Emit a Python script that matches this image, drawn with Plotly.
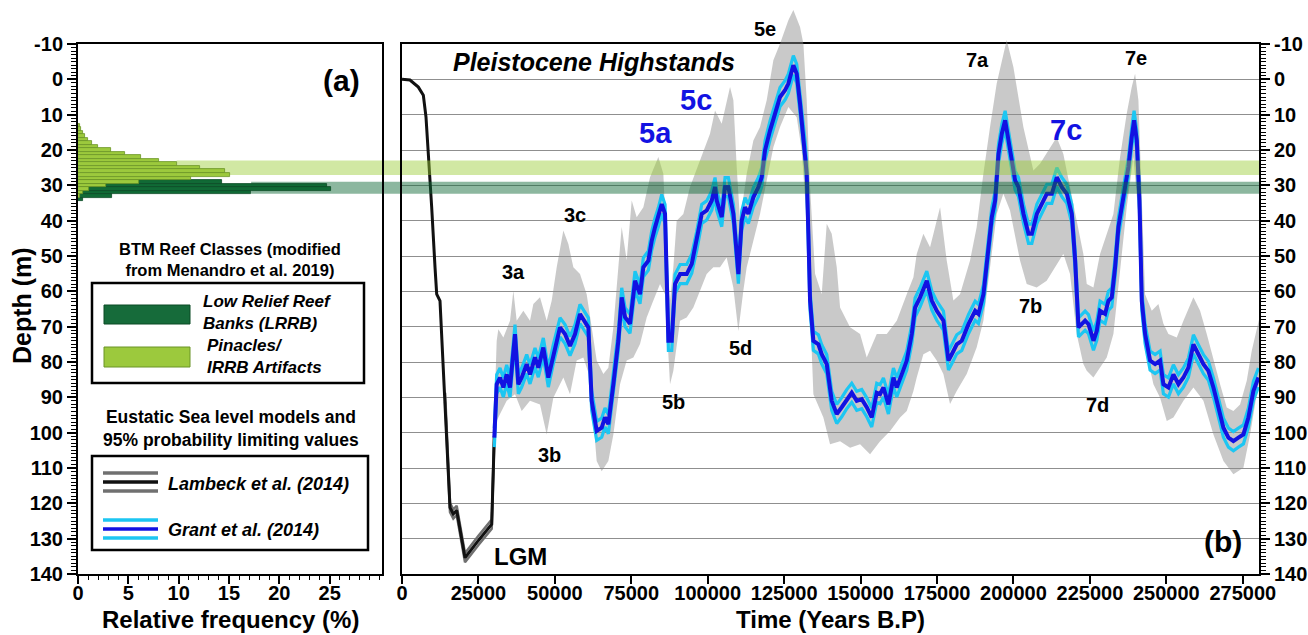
import plotly.graph_objects as go

W, H = 1308, 635
FONT = "Liberation Sans, Arial, sans-serif"

# ---------------- data ----------------
# (a) histogram of reef depths (1 m bins)
light_depth = list(range(13, 34))
light_freq = [0.15, 0.3, 0.45, 0.7, 1.0, 1.4, 2.0, 3.3, 4.7, 6.3, 8.0, 9.8,
              12.1, 14.6, 15.1, 11.2, 6.1, 2.8, 1.1, 0.5, 0.2]
dark_depth = [29, 30, 31, 32, 33, 34]
dark_freq = [14.3, 24.7, 25.1, 17.2, 3.4, 0.5]

band_light = [23.0, 27.1]
band_dark = [29.0, 32.4]

# Lambeck et al. (2014)
lambeck_year = [0, 2600, 5340, 6980, 7850, 8610, 9710, 10800, 11350, 12430, 13520,
                14100, 14620, 15700, 16780, 17890, 18700, 20610, 25000, 29340, 30190]
lambeck_depth = [0, 0.2, 2.2, 4.5, 10.7, 20.1, 36.2, 53.2, 60.8, 62.7, 81.5,
                 90.0, 100.4, 121.2, 123.0, 122.0, 126.0, 135.4, 130.5, 125.9, 101.0]
LAMBECK_CI = 1.3  # m
LAMBECK_CI_FROM = 14000

# Grant et al. (2014)
grant_year = [30200, 30970, 32060, 33150, 34240, 35330, 36960, 38050, 39150, 40790,
              41870, 43500, 44590, 46220, 47860, 49490, 51680, 53320, 54950, 56590,
              58220, 60950, 62040, 63680, 65320, 66400, 67490, 69130, 70760, 71860,
              72950, 74580, 76220, 77850, 78940, 80580, 81670, 82760, 83850, 84950,
              86030, 87130, 88220, 89310, 90950, 93130, 94770, 96400, 98040, 99670,
              101310, 102390, 102940, 104580, 105660, 106750, 108390, 110020, 111110, 112200,
              113290, 114920, 116560, 117650, 118740, 120370, 122010, 123640, 125280, 126370,
              128000, 129100, 130190, 131820, 132370, 132920, 133460, 134550, 136190, 137280,
              138920, 140550, 142190, 143820, 145460, 147100, 148730, 150370, 152000, 153640,
              155280, 156370, 157460, 159090, 160730, 161820, 163450, 165090, 166730, 167820,
              169450, 171640, 173280, 174910, 177090, 178730, 179820, 181450, 183090, 185270,
              187460, 188550, 190180, 191280, 192910, 194000, 195090, 196180, 197270, 198370,
              199450, 200540, 201640, 203270, 204910, 206000, 207640, 209270, 210900, 212540,
              214180, 215810, 217450, 219080, 220170, 221260, 222350, 223430, 224530, 226160,
              227240, 228320, 229960, 231050, 232150, 233230, 234320, 235420, 236500, 237590,
              238680, 239450, 240330, 241200, 241960, 243050, 244680, 246320, 247950, 249040,
              250680, 252310, 253950, 255580, 257210, 258850, 260480, 262120, 263750, 265390,
              267030, 268660, 270300, 271930, 273570, 275200, 276840, 278470, 280110]
grant_depth = [101.4, 86.3, 84.4, 87.2, 83.5, 87.2, 72.1, 86.3, 84.4, 80.6,
               83.5, 78.7, 81.6, 75.9, 84.4, 77.8, 70.2, 72.1, 75.5, 72.1,
               66.4, 70.2, 91.0, 99.5, 98.6, 95.7, 97.6, 86.3, 74.0, 61.7,
               67.3, 69.2, 57.0, 60.8, 53.2, 51.3, 45.7, 41.9, 39.0, 35.3,
               38.1, 74.0, 74.0, 57.9, 55.1, 55.1, 52.2, 45.7, 38.1, 37.1,
               34.3, 30.5, 34.3, 39.0, 30.5, 30.5, 38.1, 55.1, 40.0, 36.2,
               38.1, 33.4, 30.5, 27.7, 20.1, 14.5, 9.7, 5.0, 3.1, 1.2,
               -4.0, -1.6, 6.9, 20.1, 26.7, 43.7, 62.6, 74.0, 75.0, 77.8,
               80.6, 91.0, 94.7, 92.8, 90.5, 88.7, 91.0, 90.5, 92.8, 95.7,
               88.7, 89.1, 87.2, 92.0, 84.4, 87.2, 83.5, 79.6, 72.1, 64.6,
               61.7, 57.0, 62.6, 65.5, 68.3, 79.6, 77.8, 75.0, 74.0, 69.3,
               65.5, 66.4, 60.8, 52.3, 39.0, 34.3, 21.1, 15.4, 11.6, 17.3,
               23.0, 28.6, 30.5, 38.1, 43.7, 43.7, 38.1, 35.3, 32.4, 32.4,
               27.7, 30.5, 32.4, 38.1, 51.3, 70.2, 69.3, 68.3, 69.3, 74.0,
               71.2, 65.5, 66.4, 62.7, 61.7, 53.2, 41.8, 36.2, 30.5, 24.8,
               16.3, 11.6, 17.3, 34.3, 62.7, 72.1, 79.6, 80.6, 79.6, 86.3,
               87.2, 83.5, 86.3, 84.4, 81.6, 75.0, 77.8, 80.6, 82.5, 87.2,
               92.9, 98.6, 101.4, 102.4, 101.4, 100.5, 95.7, 88.2, 84.4]
GRANT_CI = 2.7  # m, half width of the 95% limits

# grey probability envelope
gray_upper_year = [30300, 30970, 31510, 33150, 35330, 36420, 37510, 39690, 41870, 42960,
                   45140, 47320, 48960, 50600, 52770, 54410, 56040, 58220, 60400, 62040,
                   63680, 65860, 67490, 69130, 70760, 71850, 73490, 75130, 76760, 78940,
                   81120, 83840, 85480, 86570, 87660, 88750, 89840, 92020, 94200, 97470,
                   100740, 102380, 104560, 107290, 108380, 109470, 110560, 112740, 114920, 117100,
                   119280, 121460, 123640, 126370, 128000, 130190, 131280, 132370, 133460, 135100,
                   137280, 138920, 140550, 142190, 143280, 146550, 149820, 152000, 155280, 158550,
                   161820, 165090, 167270, 168350, 170530, 172710, 175990, 178160, 180340, 182520,
                   185790, 187970, 190150, 192330, 194510, 197780, 199960, 203230, 206500, 208680,
                   211950, 214130, 216310, 218490, 220670, 222850, 223960, 226140, 228320, 230500,
                   232680, 234860, 237040, 238680, 239770, 240860, 241950, 243040, 245220, 247400,
                   249040, 250680, 253400, 255580, 258850, 261030, 263210, 265390, 267570, 269750,
                   271930, 274110, 276290, 277930, 279560, 280300]
gray_upper_depth = [92.0, 74.0, 70.7, 73.1, 68.3, 59.8, 68.3, 65.5, 68.3, 63.6,
                    61.7, 68.3, 62.7, 53.2, 42.8, 46.6, 53.2, 55.1, 60.8, 70.2,
                    79.6, 83.4, 81.6, 70.2, 53.1, 41.8, 51.2, 34.3, 39.0, 36.2,
                    27.7, 22.0, 26.7, 49.4, 62.6, 53.2, 40.0, 38.1, 30.5, 23.0,
                    15.4, 8.8, 12.6, 2.2, 5.9, 24.8, 40.0, 26.7, 17.3, 13.5,
                    5.9, -5.4, -10.1, -16.7, -19.6, -14.8, -10.1, 5.9, 30.5, 55.0,
                    60.8, 40.9, 43.7, 53.2, 64.6, 70.2, 72.1, 78.7, 72.1, 72.1,
                    68.3, 60.8, 56.0, 49.4, 43.7, 47.5, 36.2, 51.3, 62.6, 60.8,
                    51.3, 41.8, 26.7, 13.5, 1.2, -11.1, -3.5, 13.5, 25.8, 23.9,
                    19.2, 16.4, 21.1, 30.5, 40.0, 49.4, 57.9, 58.9, 49.4, 43.7,
                    38.1, 22.0, 9.7, 2.2, -1.6, 5.9, 34.3, 60.8, 65.5, 63.6,
                    69.2, 72.1, 73.1, 68.3, 61.7, 65.5, 72.1, 79.6, 86.3, 92.9,
                    93.9, 92.0, 85.3, 76.8, 70.2, 68.0]
gray_lower_year = [30300, 30970, 32060, 34240, 36960, 39150, 41870, 45140, 47320, 49500,
                   52770, 54950, 57130, 59310, 61490, 63670, 65310, 67490, 69130, 71310,
                   73490, 75670, 77850, 80030, 82210, 84390, 86030, 87660, 88750, 90930,
                   93110, 95290, 97470, 99650, 101830, 104010, 106190, 108370, 110010, 111640,
                   112740, 114920, 117100, 119280, 121460, 123640, 126370, 129100, 130730, 132370,
                   133460, 134550, 137820, 140000, 143280, 146550, 149820, 153090, 156370, 159640,
                   162910, 165090, 167270, 168350, 170530, 172710, 174890, 177070, 179250, 181430,
                   184700, 187970, 190150, 192330, 194510, 196690, 198870, 202140, 204320, 207590,
                   210860, 214130, 216310, 218490, 220670, 222850, 223960, 226140, 228320, 230500,
                   232680, 234860, 237040, 239220, 240860, 241950, 243590, 245770, 247950, 250130,
                   252310, 255580, 258850, 262120, 265390, 268660, 271930, 275200, 277380, 279560,
                   280300]
gray_lower_depth = [104.0, 96.7, 94.7, 91.0, 89.1, 93.9, 91.0, 92.0, 100.5, 90.1,
                    84.4, 89.1, 79.6, 78.7, 84.4, 108.0, 110.9, 108.0, 100.5, 86.3,
                    79.6, 78.7, 74.9, 67.4, 62.6, 57.9, 60.8, 86.3, 82.5, 68.3,
                    67.4, 64.6, 59.8, 55.1, 53.2, 53.2, 50.4, 58.9, 71.2, 59.8,
                    53.2, 45.7, 38.1, 28.6, 19.2, 13.5, 7.8, 10.7, 20.1, 40.0,
                    62.6, 89.1, 95.7, 103.3, 102.4, 104.3, 103.3, 106.1, 102.4, 99.5,
                    95.7, 93.9, 88.2, 84.4, 77.8, 76.8, 79.6, 83.4, 91.9, 88.2,
                    83.4, 75.8, 68.3, 53.2, 38.1, 32.4, 37.1, 51.3, 57.9, 58.9,
                    57.0, 52.3, 49.4, 55.1, 72.1, 80.6, 82.5, 84.4, 81.6, 78.7,
                    72.1, 53.2, 36.2, 22.0, 38.1, 62.6, 77.8, 86.3, 90.1, 96.7,
                    95.7, 91.0, 87.2, 91.0, 100.5, 108.0, 111.8, 109.9, 100.5, 89.1,
                    86.0]

freq_ticks = [0, 5, 10, 15, 20, 25]
depth_ticks = [-10, 0, 10, 20, 30, 40, 50, 60, 70, 80, 90, 100, 110, 120, 130, 140]
time_ticks = [0, 25000, 50000, 75000, 100000, 125000, 150000, 175000, 200000, 225000, 250000, 275000]

# ---------------- layout geometry (pixels) ----------------
LX0, LX1 = 78, 382
RX0, RX1 = 402, 1259
PY0, PY1 = 44, 574
DEPTH_MIN, DEPTH_MAX = -10, 140
FREQ_MAX = 30.2
TIME_MAX = 280300


def px(x):
    return x / W


def py(y):
    return 1 - y / H


scale = (PY1 - PY0) / (DEPTH_MAX - DEPTH_MIN)
full_top = DEPTH_MIN - PY0 / scale
full_bot = DEPTH_MAX + (H - PY1) / scale

BLUE = "#1212e2"
CYAN = "#1cc6f2"

fig = go.Figure()

# ---- (a) histogram ----
fig.add_trace(go.Bar(y=dark_depth, x=dark_freq, orientation="h", width=1.0,
                     marker=dict(color="#116a36", line=dict(color="#0a4a24", width=0.8)),
                     xaxis="x", yaxis="y", showlegend=False, hoverinfo="skip"))
fig.add_trace(go.Bar(y=light_depth, x=light_freq, orientation="h", width=1.0,
                     marker=dict(color="#9cc93d", line=dict(color="#6a9426", width=0.8)),
                     xaxis="x", yaxis="y", showlegend=False, hoverinfo="skip"))

# ---- (b) frame subplot ----
fig.add_trace(go.Scatter(x=[None], y=[None], xaxis="x2", yaxis="y2", showlegend=False))

# grey probability envelope (not clipped at the top, like the original)
poly_x = gray_upper_year + gray_lower_year[::-1]
poly_y = gray_upper_depth + gray_lower_depth[::-1]
fig.add_trace(go.Scatter(x=poly_x, y=poly_y, fill="toself", mode="lines",
                         fillcolor="rgba(140,140,140,0.47)", line=dict(width=0, color="rgba(0,0,0,0)"),
                         xaxis="x2", yaxis="y3", showlegend=False, hoverinfo="skip"))

# Lambeck limits + curve
lam_x = [x for x in lambeck_year if x >= LAMBECK_CI_FROM]
lam_y = [d for x, d in zip(lambeck_year, lambeck_depth) if x >= LAMBECK_CI_FROM]
for sgn in (-1, 1):
    fig.add_trace(go.Scatter(x=lam_x, y=[d + sgn * LAMBECK_CI for d in lam_y], mode="lines",
                             line=dict(color="#707070", width=2.5),
                             xaxis="x2", yaxis="y3", showlegend=False, hoverinfo="skip"))
fig.add_trace(go.Scatter(x=lambeck_year, y=lambeck_depth, mode="lines",
                         line=dict(color="#111111", width=3),
                         xaxis="x2", yaxis="y3", showlegend=False, hoverinfo="skip"))

# Grant limits + curve
for sgn in (-1, 1):
    fig.add_trace(go.Scatter(x=grant_year, y=[d + sgn * GRANT_CI for d in grant_depth], mode="lines",
                             line=dict(color=CYAN, width=3.2),
                             xaxis="x2", yaxis="y3", showlegend=False, hoverinfo="skip"))
fig.add_trace(go.Scatter(x=grant_year, y=grant_depth, mode="lines",
                         line=dict(color=BLUE, width=4),
                         xaxis="x2", yaxis="y3", showlegend=False, hoverinfo="skip"))

tickfont = dict(family=FONT, size=20, color="black", weight="bold")
ydom = [py(PY1), py(PY0)]

axis_common = dict(showline=True, linecolor="black", linewidth=2, mirror=True,
                   zeroline=False, ticks="outside", tickcolor="black",
                   tickfont=tickfont, fixedrange=True, automargin=False)

fig.update_layout(
    width=W, height=H,
    margin=dict(l=0, r=0, t=0, b=0, pad=0, autoexpand=False),
    paper_bgcolor="white", plot_bgcolor="rgba(0,0,0,0)",
    barmode="overlay", bargap=0,
    showlegend=False,
    xaxis=dict(domain=[px(LX0), px(LX1)], range=[0, FREQ_MAX], anchor="y",
               tickmode="array", tickvals=freq_ticks, ticktext=[str(v) for v in freq_ticks],
               ticklen=8, tickwidth=1.5, showgrid=False, ticklabelstandoff=-8,
               minor=dict(dtick=1, tick0=0, ticks="outside", ticklen=4, tickwidth=1,
                          tickcolor="black", showgrid=False),
               **axis_common),
    yaxis=dict(domain=ydom, range=[DEPTH_MAX, DEPTH_MIN], anchor="x",
               tickmode="array", tickvals=depth_ticks, ticktext=[str(v) for v in depth_ticks],
               ticklen=9, tickwidth=1.5, showgrid=False,
               minor=dict(dtick=1, tick0=0, ticks="outside", ticklen=5, tickwidth=1,
                          tickcolor="black", showgrid=False),
               **axis_common),
    xaxis2=dict(domain=[px(RX0), px(RX1)], range=[0, TIME_MAX], anchor="y2",
                tickmode="array", tickvals=time_ticks, ticktext=[str(v) for v in time_ticks],
                ticklen=8, tickwidth=1.5, showgrid=False, ticklabelstandoff=-8,
                **axis_common),
    yaxis2=dict(domain=ydom, range=[DEPTH_MAX, DEPTH_MIN], anchor="x2", side="right",
                tickmode="array", tickvals=depth_ticks, ticktext=[str(v) for v in depth_ticks],
                ticklen=9, tickwidth=1.5,
                showgrid=True, gridcolor="#8f8f8f", gridwidth=1.2,
                minor=dict(dtick=1, tick0=0, ticks="outside", ticklen=5, tickwidth=1,
                           tickcolor="black", showgrid=False),
                **axis_common),
    yaxis3=dict(domain=[0, 1], range=[full_bot, full_top], anchor="x2",
                visible=False, fixedrange=True, showgrid=False, zeroline=False,
                automargin=False),
)

shapes = []
# reef depth bands: left part under the bars, right part over the curves
for (d0, d1), col, start_freq in ((band_light, "rgba(154,205,50,0.45)", 9.8),
                                  (band_dark, "rgba(15,105,55,0.48)", 17.2)):
    x_start = px(LX0) + (px(LX1) - px(LX0)) * start_freq / FREQ_MAX
    shapes.append(dict(type="rect", xref="paper", yref="y", x0=x_start, x1=px(RX0),
                       y0=d0, y1=d1, fillcolor=col, line=dict(width=0), layer="below"))
    shapes.append(dict(type="rect", xref="paper", yref="y2", x0=px(RX0), x1=px(RX1),
                       y0=d0, y1=d1, fillcolor=col, line=dict(width=0), layer="above"))

# legend boxes
shapes.append(dict(type="rect", xref="paper", yref="paper", x0=px(92), x1=px(364),
                   y0=py(383), y1=py(283), line=dict(color="black", width=2.5)))
shapes.append(dict(type="rect", xref="paper", yref="paper", x0=px(104), x1=px(190),
                   y0=py(324), y1=py(305), fillcolor="#166b3a", line=dict(color="#0a4a24", width=1)))
shapes.append(dict(type="rect", xref="paper", yref="paper", x0=px(104), x1=px(190),
                   y0=py(367), y1=py(347), fillcolor="#9cc93d", line=dict(color="#6a9426", width=1)))
shapes.append(dict(type="rect", xref="paper", yref="paper", x0=px(92), x1=px(368),
                   y0=py(550), y1=py(456), line=dict(color="black", width=2.5)))
for yy, col in ((473, "#707070"), (482, "#111111"), (491, "#707070"),
                (520, CYAN), (529, BLUE), (538, CYAN)):
    shapes.append(dict(type="line", xref="paper", yref="paper", x0=px(103), x1=px(158),
                       y0=py(yy), y1=py(yy), line=dict(color=col, width=3.5)))
fig.update_layout(shapes=shapes)


def ann(text, x, y, size, color="black", xanchor="center", angle=0, align="center",
        yanchor="middle"):
    return dict(text=text, x=px(x), y=py(y), xref="paper", yref="paper",
                xanchor=xanchor, yanchor=yanchor, showarrow=False, textangle=angle,
                align=align, font=dict(family=FONT, size=size, color=color))


annotations = [
    ann("<b>Depth (m)</b>", 22, 306, 25, angle=-90),
    ann("<b>Relative frequency (%)</b>", 230, 635, 24, yanchor="bottom"),
    ann("<b>Time (Years B.P)</b>", 830, 635, 24, yanchor="bottom"),
    ann("<b>(a)</b>", 341, 80, 30),
    ann("<b>(b)</b>", 1223, 541, 30),
    ann("<b><i>Pleistocene Highstands</i></b>", 594, 62, 25),
    ann("<b>5e</b>", 765, 29, 20),
    ann("<b>5c</b>", 696, 100, 29, color=BLUE),
    ann("<b>5a</b>", 655, 133, 29, color=BLUE),
    ann("<b>7c</b>", 1066, 130, 29, color=BLUE),
    ann("<b>3c</b>", 575, 215, 20),
    ann("<b>3a</b>", 513, 272, 20),
    ann("<b>7a</b>", 977, 60, 20),
    ann("<b>7e</b>", 1136, 58, 20),
    ann("<b>7b</b>", 1030, 306, 20),
    ann("<b>7d</b>", 1097, 405, 20),
    ann("<b>5d</b>", 740, 348, 20),
    ann("<b>5b</b>", 673, 402, 20),
    ann("<b>3b</b>", 549, 455, 20),
    ann("<b>LGM</b>", 520, 556, 24),
    ann("<b>BTM Reef Classes (modified<br>from Menandro et al. 2019)</b>", 230, 259, 16.5),
    ann("<b><i>Low Relief Reef<br>Banks (LRRB)</i></b>", 201, 313, 17, xanchor="left", align="left"),
    ann("<b><i>Pinacles/<br>IRRB Artifacts</i></b>", 205, 356, 17, xanchor="left", align="left"),
    ann("<b>Eustatic Sea level models and<br>95% probability limiting values</b>", 231, 428, 17.5),
    ann("<b><i>Lambeck et al. (2014)</i></b>", 166, 484, 18, xanchor="left"),
    ann("<b><i>Grant et al. (2014)</i></b>", 166, 530, 18, xanchor="left"),
]
fig.update_layout(annotations=annotations)

fig.write_html("out.html")
